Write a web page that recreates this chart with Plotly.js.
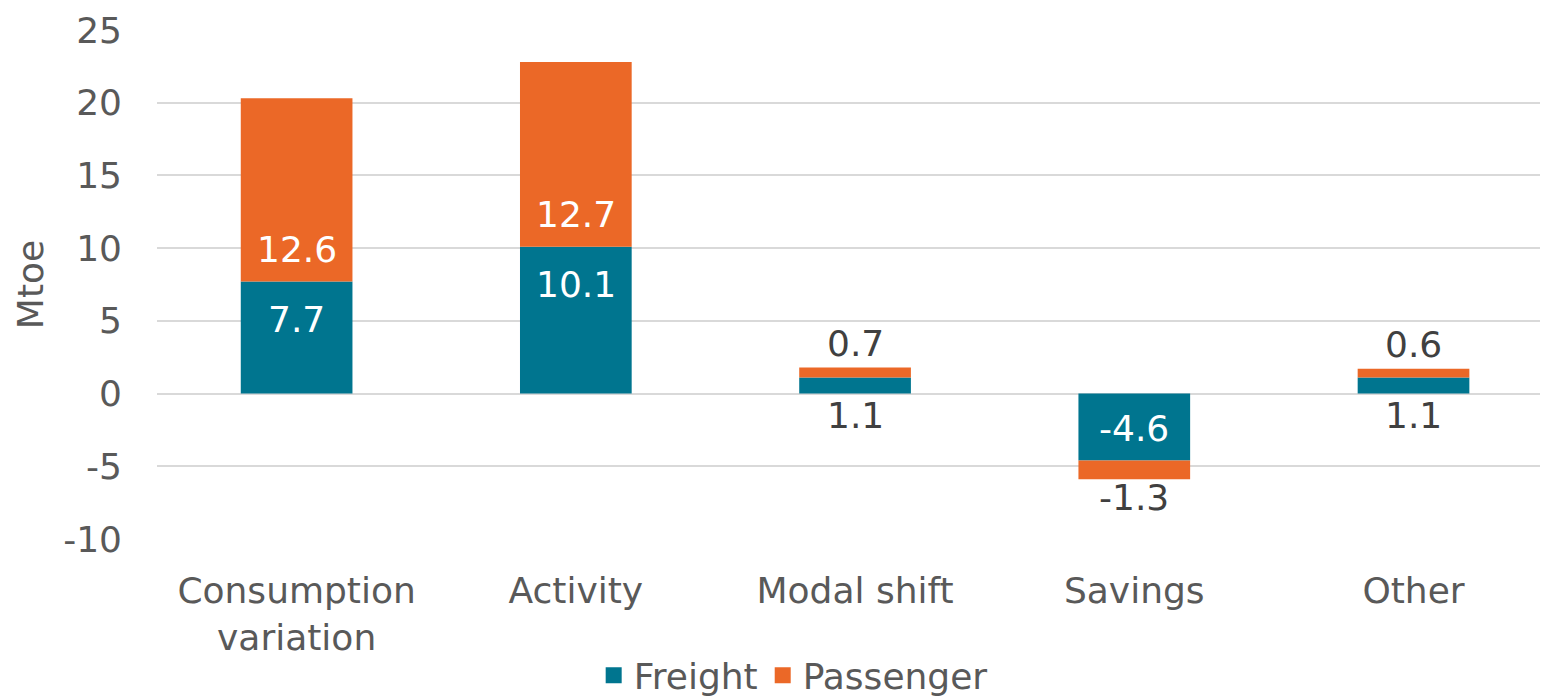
<!DOCTYPE html>
<html>
<head>
<meta charset="utf-8">
<script src="https://cdn.plot.ly/plotly-3.0.1.min.js"></script>
<style>html,body{margin:0;padding:0;background:#fff;}#chart{width:1542px;height:700px;}</style>
</head>
<body>
<div id="chart"></div>
<script>
const categories = ["Consumption<br>variation", "Activity", "Modal shift", "Savings", "Other"];
const freight = [7.7, 10.1, 1.1, -4.6, 1.1];
const passenger = [12.6, 12.7, 0.7, -1.3, 0.6];
const seriesNames = ["Freight", "Passenger"];
const yTicks = [-10, -5, 0, 5, 10, 15, 20, 25];

const colFreight = "#00758F";
const colPassenger = "#EB6827";
const txt = "#595959";
const dark = "#404040";
const FONT = "DejaVu Sans, Verdana, sans-serif";

const traces = [
  {type: "bar", x: categories, y: freight, name: seriesNames[0], marker: {color: colFreight}, showlegend: false, hoverinfo: "none"},
  {type: "bar", x: categories, y: passenger, name: seriesNames[1], marker: {color: colPassenger}, showlegend: false, hoverinfo: "none"},
  {type: "scatter", mode: "markers", x: [null], y: [null], name: seriesNames[0], marker: {symbol: "square", size: 20, color: colFreight}},
  {type: "scatter", mode: "markers", x: [null], y: [null], name: seriesNames[1], marker: {symbol: "square", size: 20, color: colPassenger}}
];

const annotations = [];
const fmt = v => v.toFixed(1);
categories.forEach((c, i) => {
  const f = freight[i], p = passenger[i];
  // freight label
  if (Math.abs(f) >= 3) {
    annotations.push({x: c, y: f, text: fmt(f), showarrow: false, yanchor: "middle",
      yshift: f > 0 ? -38 : 32, font: {color: "#ffffff", size: 36, family: FONT}});
  } else {
    annotations.push({x: c, y: 0, text: fmt(f), showarrow: false, yanchor: "middle",
      yshift: f > 0 ? -22 : 22, font: {color: dark, size: 36, family: FONT}});
  }
  // passenger label
  if (Math.abs(p) >= 3) {
    annotations.push({x: c, y: f, text: fmt(p), showarrow: false, yanchor: "middle",
      yshift: p > 0 ? 32 : -32, font: {color: "#ffffff", size: 36, family: FONT}});
  } else {
    annotations.push({x: c, y: f + p, text: fmt(p), showarrow: false, yanchor: "middle",
      yshift: p > 0 ? 24 : -18, font: {color: dark, size: 36, family: FONT}});
  }
});

const layout = {
  width: 1542, height: 700,
  margin: {l: 157, r: 2, t: 30, b: 161, autoexpand: false},
  paper_bgcolor: "#ffffff", plot_bgcolor: "#ffffff",
  font: {family: FONT, size: 36, color: txt},
  barmode: "relative",
  bargap: 0.6,
  showlegend: true,
  legend: {orientation: "h", x: 0.46, xanchor: "center", y: -0.268, yanchor: "middle",
    font: {size: 36, color: txt, family: FONT}, itemsizing: "trace", tracegroupgap: 0, itemwidth: 30},
  xaxis: {type: "category", range: [-0.5, 4.453], showgrid: false, zeroline: false, showline: false, ticks: "",
    tickfont: {size: 36, color: txt, family: FONT}, ticklabelstandoff: 27, automargin: false},
  yaxis: {range: [-10, 25], tickvals: yTicks, ticktext: yTicks.map(String), showgrid: true,
    gridcolor: "#D9D9D9", gridwidth: 2, zeroline: true, zerolinecolor: "#D9D9D9", zerolinewidth: 2,
    showline: false, ticks: "", ticklabelstandoff: 34, automargin: false,
    tickfont: {size: 36, color: txt, family: FONT},
    title: {text: "Mtoe", font: {size: 36, color: txt, family: FONT}, standoff: 8}},
  annotations: annotations
};

Plotly.newPlot("chart", traces, layout, {displayModeBar: false, staticPlot: true});
</script>
</body>
</html>
